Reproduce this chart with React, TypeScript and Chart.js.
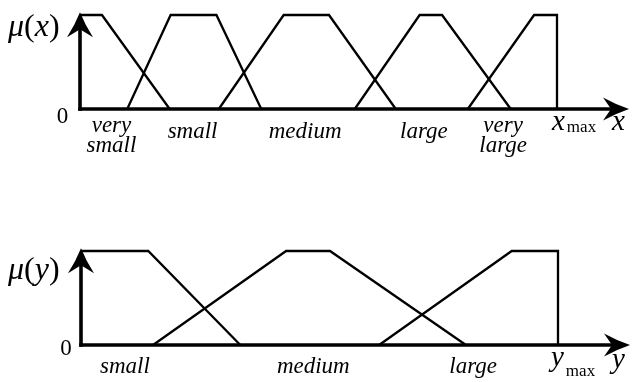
import { useEffect, useRef } from "react";
import { Chart, registerables } from "chart.js";

Chart.register(...registerables);

// Input universe x: 0 … x_max (= 100)
const xVerySmall = [{ x: 0, y: 1 }, { x: 4.6, y: 1 }, { x: 18.8, y: 0 }];
const xSmall = [{ x: 9.9, y: 0 }, { x: 19.0, y: 1 }, { x: 28.6, y: 1 }, { x: 38.0, y: 0 }];
const xMedium = [{ x: 29.1, y: 0 }, { x: 42.7, y: 1 }, { x: 52.2, y: 1 }, { x: 66.2, y: 0 }];
const xLarge = [{ x: 57.6, y: 0 }, { x: 71.2, y: 1 }, { x: 75.9, y: 1 }, { x: 90.3, y: 0 }];
const xVeryLarge = [{ x: 81.3, y: 0 }, { x: 95.2, y: 1 }, { x: 100, y: 1 }, { x: 100, y: 0 }];
const xTermLabels = [["very", "small"], ["small"], ["medium"], ["large"], ["very", "large"]];
const xTermPositions = [6.6, 23.6, 47.2, 72.1, 88.7];

// Output universe y: 0 … y_max (= 100)
const ySmall = [{ x: 0, y: 1 }, { x: 14.1, y: 1 }, { x: 33.4, y: 0 }];
const yMedium = [{ x: 15.1, y: 0 }, { x: 43.0, y: 1 }, { x: 52.2, y: 1 }, { x: 80.7, y: 0 }];
const yLarge = [{ x: 62.5, y: 0 }, { x: 90.3, y: 1 }, { x: 100, y: 1 }, { x: 100, y: 0 }];
const yTermLabels = [["small"], ["medium"], ["large"]];
const yTermPositions = [9.2, 48.7, 82.2];

const UNIVERSE_MAX = 100;
const AXIS_X_END = 115.1;
const AXIS_Y_END = 1.03;

const SERIF = '"Liberation Serif", "Times New Roman", serif';

type Pt = { x: number; y: number };

interface PanelSpec {
  variable: string;
  sets: Pt[][];
  termLabels: string[][];
  termPositions: number[];
  padding: { left: number; right: number; top: number; bottom: number };
  singleBaseline: number;
  doubleBaselines: [number, number];
  zero: { x: number; y: number };
  muBaseline: number;
  maxVar: { x: number; y: number; subY: number };
  axisVar: { x: number; y: number };
}

const panels: PanelSpec[] = [
  {
    variable: "x",
    sets: [xVerySmall, xSmall, xMedium, xLarge, xVeryLarge],
    termLabels: xTermLabels,
    termPositions: xTermPositions,
    padding: { left: 80, right: 76, top: 15, bottom: 82 },
    singleBaseline: 138,
    doubleBaselines: [132, 152],
    zero: { x: 62.5, y: 123 },
    muBaseline: 36,
    maxVar: { x: 552, y: 129.5, subY: 132 },
    axisVar: { x: 612, y: 130 },
  },
  {
    variable: "y",
    sets: [ySmall, yMedium, yLarge],
    termLabels: yTermLabels,
    termPositions: yTermPositions,
    padding: { left: 81, right: 75, top: 60, bottom: 37 },
    singleBaseline: 182,
    doubleBaselines: [176, 196],
    zero: { x: 66, y: 164 },
    muBaseline: 88,
    maxVar: { x: 551, y: 175, subY: 185 },
    axisVar: { x: 612, y: 177 },
  },
];

function arrowHead(
  ctx: CanvasRenderingContext2D,
  tipX: number,
  tipY: number,
  dx: number,
  dy: number,
  len: number,
  half: number,
  notch: number
) {
  const px = -dy;
  const py = dx;
  const bx = tipX - dx * len;
  const by = tipY - dy * len;
  const b1x = bx + px * half;
  const b1y = by + py * half;
  const b2x = bx - px * half;
  const b2y = by - py * half;
  const nx = tipX - dx * (len - notch);
  const ny = tipY - dy * (len - notch);
  const c1x = tipX - dx * len * 0.55 + px * half * 0.43;
  const c1y = tipY - dy * len * 0.55 + py * half * 0.43;
  const c2x = tipX - dx * len * 0.55 - px * half * 0.43;
  const c2y = tipY - dy * len * 0.55 - py * half * 0.43;
  ctx.beginPath();
  ctx.moveTo(tipX, tipY);
  ctx.quadraticCurveTo(c1x, c1y, b1x, b1y);
  ctx.lineTo(nx, ny);
  ctx.lineTo(b2x, b2y);
  ctx.quadraticCurveTo(c2x, c2y, tipX, tipY);
  ctx.closePath();
  ctx.fill();
}

function makeOverlay(spec: PanelSpec) {
  return {
    id: "fuzzyAxes",
    afterDatasetsDraw(chart: Chart) {
      const ctx = chart.ctx;
      const xs = chart.scales.x;
      const ys = chart.scales.y;
      const x0 = xs.getPixelForValue(0);
      const y0 = ys.getPixelForValue(0);
      const xEnd = xs.getPixelForValue(AXIS_X_END);
      const yEnd = ys.getPixelForValue(AXIS_Y_END);

      ctx.save();
      ctx.strokeStyle = "#000";
      ctx.fillStyle = "#000";
      ctx.lineWidth = 3.6;
      ctx.lineCap = "butt";

      // horizontal axis
      ctx.beginPath();
      ctx.moveTo(x0 - 1.8, y0);
      ctx.lineTo(xEnd - 14, y0);
      ctx.stroke();
      arrowHead(ctx, xEnd, y0, 1, 0, 26, 11.5, 8);

      // membership axis
      ctx.beginPath();
      ctx.moveTo(x0, y0 + 1.8);
      ctx.lineTo(x0, yEnd + 14);
      ctx.stroke();
      arrowHead(ctx, x0, yEnd, 0, -1, 25, 13, 8);

      // term names
      ctx.textAlign = "center";
      ctx.textBaseline = "alphabetic";
      ctx.font = `italic 23px ${SERIF}`;
      spec.termLabels.forEach((lines, i) => {
        const cx = xs.getPixelForValue(spec.termPositions[i]);
        if (lines.length === 1) {
          ctx.fillText(lines[0], cx, spec.singleBaseline);
        } else {
          lines.forEach((ln, j) => ctx.fillText(ln, cx, spec.doubleBaselines[j]));
        }
      });

      // origin
      ctx.font = `23px ${SERIF}`;
      ctx.fillText("0", spec.zero.x, spec.zero.y);

      // μ(v)
      ctx.textAlign = "left";
      const parts: [string, boolean][] = [
        ["\u03bc", true],
        ["(", false],
        [spec.variable, true],
        [")", false],
      ];
      let cx = 8;
      for (const [t, it] of parts) {
        ctx.font = `${it ? "italic " : ""}32px ${SERIF}`;
        ctx.fillText(t, cx, spec.muBaseline);
        cx += ctx.measureText(t).width;
      }

      // v_max
      ctx.font = `italic 29px ${SERIF}`;
      ctx.fillText(spec.variable, spec.maxVar.x, spec.maxVar.y);
      const vw = ctx.measureText(spec.variable).width;
      ctx.font = `17px ${SERIF}`;
      ctx.fillText("max", spec.maxVar.x + vw + 2, spec.maxVar.subY);

      // axis variable
      ctx.font = `italic 29px ${SERIF}`;
      ctx.fillText(spec.variable, spec.axisVar.x, spec.axisVar.y);

      ctx.restore();
    },
  };
}

function Panel({ spec, top }: { spec: PanelSpec; top: number }) {
  const ref = useRef<HTMLCanvasElement>(null);

  useEffect(() => {
    if (!ref.current) return;
    const chart = new Chart(ref.current, {
      type: "scatter",
      data: {
        datasets: spec.sets.map((pts) => ({
          data: pts,
          showLine: true,
          borderColor: "#000",
          borderWidth: 2.3,
          pointRadius: 0,
          pointHoverRadius: 0,
          fill: false,
          tension: 0,
          clip: false as any,
        })),
      },
      options: {
        responsive: false,
        animation: false,
        devicePixelRatio: 1,
        events: [],
        layout: { padding: spec.padding },
        scales: {
          x: { type: "linear", min: 0, max: UNIVERSE_MAX, display: false },
          y: { type: "linear", min: 0, max: 1, display: false },
        },
        plugins: {
          legend: { display: false },
          tooltip: { enabled: false },
        },
      },
      plugins: [makeOverlay(spec)],
    });
    return () => chart.destroy();
  }, [spec]);

  return (
    <canvas
      ref={ref}
      width={633}
      height={191}
      style={{ position: "absolute", left: 0, top, width: 633, height: 191 }}
    />
  );
}

export default function App() {
  return (
    <div style={{ position: "absolute", left: 0, top: 0, width: 633, height: 382, background: "#fff" }}>
      <Panel spec={panels[0]} top={0} />
      <Panel spec={panels[1]} top={191} />
    </div>
  );
}
